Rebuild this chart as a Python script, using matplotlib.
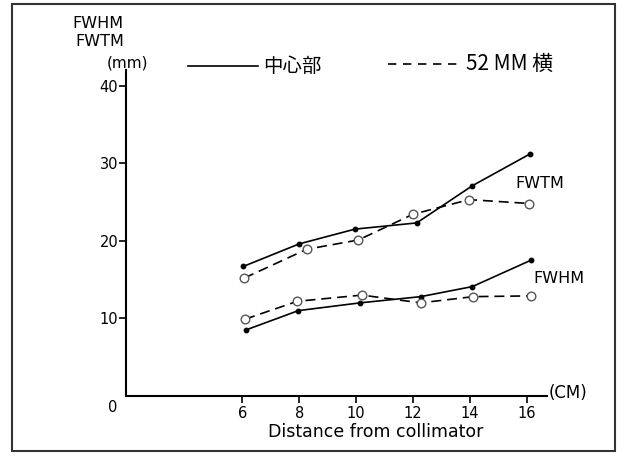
import matplotlib
matplotlib.use("Agg")
import matplotlib.pyplot as plt
from matplotlib.lines import Line2D
from matplotlib.patches import Rectangle

# ---- data ----
x_center_fwtm = [6.04, 8.0, 9.96, 12.13, 14.09, 16.12]
y_center_fwtm = [16.7, 19.6, 21.5, 22.3, 27.1, 31.2]
x_side_fwtm = [6.07, 8.26, 10.08, 11.99, 13.97, 16.09]
y_side_fwtm = [15.2, 18.9, 20.1, 23.4, 25.3, 24.8]
x_center_fwhm = [6.12, 7.97, 10.14, 12.27, 14.09, 16.15]
y_center_fwhm = [8.5, 11.0, 12.0, 12.8, 14.1, 17.5]
x_side_fwhm = [6.1, 7.93, 10.2, 12.27, 14.12, 16.15]
y_side_fwhm = [9.9, 12.2, 13.0, 12.0, 12.8, 12.9]
x_ticks = [6, 8, 10, 12, 14, 16]
y_ticks = [10, 20, 30, 40]
legend_labels = ["中心部", "52 MM 横"]

plt.rcParams['font.family'] = ['DejaVu Sans']
cjk = ['Noto Sans CJK JP', 'DejaVu Sans']

fig = plt.figure(figsize=(6.25, 4.61), dpi=100)
ax = fig.add_axes([126/625, 1-396/461, (546.7-126)/625, (396-70)/461])

lw = 1.2
dash = (0, (6, 3.5))
ax.plot(x_center_fwtm, y_center_fwtm, '-', color='black', lw=lw,
        marker='o', ms=3.2, mfc='black', mec='black')
ax.plot(x_side_fwtm, y_side_fwtm, linestyle=dash, color='black', lw=lw,
        marker='o', ms=6.2, mfc='white', mec='#555555', mew=1.0)
ax.plot(x_center_fwhm, y_center_fwhm, '-', color='black', lw=lw,
        marker='o', ms=3.2, mfc='black', mec='black')
ax.plot(x_side_fwhm, y_side_fwhm, linestyle=dash, color='black', lw=lw,
        marker='o', ms=6.2, mfc='white', mec='#555555', mew=1.0)

ax.set_xlim(1.91, 16.70)
ax.set_ylim(0, 42)
ax.spines['top'].set_visible(False)
ax.spines['right'].set_visible(False)
ax.spines['left'].set_linewidth(1.5)
ax.spines['bottom'].set_linewidth(1.5)
ax.set_xticks(x_ticks)
ax.set_yticks(y_ticks)
ax.tick_params(axis='both', direction='out', length=5, width=1.2, labelsize=10.5)
ax.tick_params(axis='y', pad=0.5)
ax.tick_params(axis='x', pad=2.5)
ax.set_facecolor('none')

ax.annotate('0', xy=(0, 0), xycoords='axes fraction', xytext=(-9.5, -8),
            textcoords='offset points', ha='center', va='center', fontsize=10.5)
ax.text(1.005, 0.01, '(CM)', transform=ax.transAxes, ha='left', va='center',
        fontsize=12)
ax.set_xlabel('Distance from collimator', fontsize=12.5, labelpad=1)
ax.xaxis.label.set_x((376 - 126) / 420.7)

ax.text(15.59, 27.4, 'FWTM', fontsize=11.5, ha='left', va='center')
ax.text(16.22, 15.2, 'FWHM', fontsize=11.5, ha='left', va='center')

# y-axis label block
fig.text(98/625, 1-23/461, 'FWHM', fontsize=11.5, ha='center', va='center')
fig.text(100/625, 1-42/461, 'FWTM', fontsize=11.5, ha='center', va='center')
fig.text(127/625, 1-63/461, '(mm)', fontsize=11, ha='center', va='center')

# legend
fig.add_artist(Line2D([188/625, 258/625], [1-66/461, 1-66/461], color='black', lw=lw))
fig.text(263/625, 1-66/461, legend_labels[0], fontsize=14, family=cjk,
         ha='left', va='center')
fig.add_artist(Line2D([388/625, 463/625], [1-64/461, 1-64/461], color='black', lw=lw,
                      linestyle=(0, (5, 4))))
fig.text(466/625, 1-64/461, legend_labels[1], fontsize=15, family=cjk,
         ha='left', va='center')

# outer frame
fig.add_artist(Rectangle((12/625, 1-451/461), (615-12)/625, (451-4)/461,
                         fill=False, edgecolor='#333333', lw=1.5,
                         transform=fig.transFigure))

fig.savefig('out.png', dpi=100)
